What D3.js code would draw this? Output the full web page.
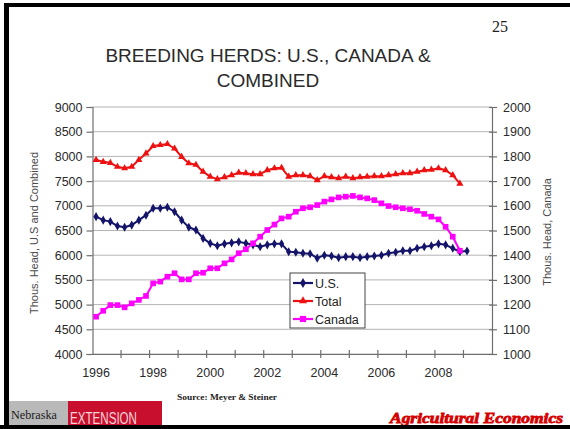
<!DOCTYPE html>
<html>
<head>
<meta charset="utf-8">
<script src="https://cdn.jsdelivr.net/npm/d3@7"></script>
<style>
  html, body { margin: 0; padding: 0; background: #fff; }
  svg { display: block; }
</style>
</head>
<body>
<svg id="chart" width="570" height="429"></svg>
<script>
// Quarterly breeding herd inventories, thousand head
const years = d3.range(1996, 2010);
const quarters = years.flatMap(y => [1, 2, 3, 4].map(q => `${y}Q${q}`));

const usHerd = [6780, 6710, 6680, 6590, 6565, 6610, 6710, 6810, 6950, 6950, 6970, 6880,
  6710, 6565, 6510, 6340, 6240, 6190, 6230, 6250, 6270, 6240, 6210, 6170, 6210, 6230,
  6230, 6070, 6060, 6040, 6030, 5940, 6000, 5985, 5950, 5970, 5970, 5950, 5970, 5985,
  6000, 6040, 6060, 6090, 6090, 6140, 6170, 6190, 6230, 6210, 6140, 6070, 6085];

const totalHerd = [7930, 7890, 7870, 7790, 7760, 7790, 7930, 8060, 8210, 8230, 8250, 8160,
  7990, 7860, 7830, 7690, 7590, 7540, 7580, 7620, 7670, 7660, 7640, 7640, 7720, 7760,
  7770, 7590, 7620, 7620, 7600, 7520, 7600, 7580, 7560, 7590, 7560, 7580, 7590, 7600,
  7600, 7620, 7640, 7660, 7660, 7690, 7720, 7730, 7760, 7720, 7620, 7450];

const canadaHerd = [1151, 1175, 1198, 1198, 1189, 1205, 1219, 1235, 1286, 1293, 1313, 1327,
  1302, 1302, 1327, 1329, 1347, 1347, 1367, 1383, 1408, 1424, 1448, 1475, 1502, 1524,
  1549, 1556, 1576, 1590, 1594, 1603, 1617, 1626, 1634, 1637, 1640, 1634, 1630, 1623,
  1610, 1599, 1594, 1590, 1586, 1580, 1567, 1556, 1545, 1515, 1475, 1418];

const leftTicks = [4000, 4500, 5000, 5500, 6000, 6500, 7000, 7500, 8000, 8500, 9000];
const rightTicks = [1000, 1100, 1200, 1300, 1400, 1500, 1600, 1700, 1800, 1900, 2000];
const yearLabels = ["1996", "1998", "2000", "2002", "2004", "2006", "2008"];

const seriesNames = ["U.S.", "Total", "Canada"];
const seriesColors = ["#14146a", "#ee1111", "#ff00ff"];

const svg = d3.select("#chart");
const font = "Liberation Sans, Arial, sans-serif";

const plot = { left: 92.5, right: 492, top: 107, bottom: 354 };

const x = d3.scaleBand().domain(quarters).range([plot.left, plot.right]).padding(0);
const cx = q => x(q) + x.bandwidth() / 2;
const yL = d3.scaleLinear().domain([4000, 9000]).range([plot.bottom, plot.top]);
const yR = d3.scaleLinear().domain([1000, 2000]).range([plot.bottom, plot.top]);

// Slide number and title
svg.append("text").attr("x", 500).attr("y", 32).attr("text-anchor", "middle")
  .attr("font-family", "Liberation Serif, Times New Roman, serif").attr("font-size", 16)
  .attr("fill", "#222").text("25");

const title = svg.append("text").attr("text-anchor", "middle")
  .attr("font-family", font).attr("font-size", 19).attr("fill", "#2a2a2a");
title.append("tspan").attr("x", 268).attr("y", 62).text("BREEDING HERDS: U.S., CANADA &");
title.append("tspan").attr("x", 268).attr("y", 87).text("COMBINED");

// Horizontal gridlines
svg.append("g").selectAll("line").data(leftTicks).join("line")
  .attr("x1", plot.left).attr("x2", plot.right)
  .attr("y1", d => yL(d)).attr("y2", d => yL(d))
  .attr("stroke", "#b4b4b4").attr("stroke-width", 1);

// Left axis
const gL = svg.append("g").attr("transform", `translate(${plot.left},0)`)
  .call(d3.axisLeft(yL).tickValues(leftTicks).tickSize(6).tickPadding(4).tickFormat(d3.format("d")));
// Right axis
const gR = svg.append("g").attr("transform", `translate(${plot.right},0)`)
  .call(d3.axisRight(yR).tickValues(rightTicks).tickSize(5).tickPadding(6).tickFormat(d3.format("d")));
// Bottom axis: labels every two years, tick marks at each year boundary
const gB = svg.append("g").attr("transform", `translate(0,${plot.bottom})`)
  .call(d3.axisBottom(x)
    .tickValues(yearLabels.map(y => `${y}Q1`))
    .tickSize(0).tickPadding(14)
    .tickFormat(q => q.slice(0, 4)));

[gL, gR, gB].forEach(g => {
  g.select(".domain").attr("stroke", "#6e6e6e").attr("stroke-width", 1.2);
  g.selectAll(".tick line").attr("stroke", "#6e6e6e").attr("stroke-width", 1.2);
  g.selectAll("text").attr("font-family", font).attr("font-size", 12.5).attr("fill", "#2a2a2a");
});
gR.selectAll(".tick line").attr("x1", -3);

svg.append("g").selectAll("line")
  .data(quarters.filter(q => q.endsWith("Q1")).slice(1))
  .join("line")
  .attr("x1", d => x(d)).attr("x2", d => x(d))
  .attr("y1", plot.bottom - 4).attr("y2", plot.bottom + 4)
  .attr("stroke", "#6e6e6e").attr("stroke-width", 1.2);

// Axis titles
svg.append("text")
  .attr("transform", "translate(38,233) rotate(-90)")
  .attr("text-anchor", "middle").attr("font-family", font).attr("font-size", 11)
  .attr("fill", "#4a4a4a").text("Thous. Head, U.S and Combined");
svg.append("text")
  .attr("transform", "translate(551,232) rotate(-90)")
  .attr("text-anchor", "middle").attr("font-family", font).attr("font-size", 11)
  .attr("fill", "#4a4a4a").text("Thous. Head, Canada");

// Series
const series = [
  { name: seriesNames[0], values: usHerd, y: yL, color: seriesColors[0], symbol: d3.symbolDiamond, size: 24 },
  { name: seriesNames[1], values: totalHerd, y: yL, color: seriesColors[1], symbol: d3.symbolTriangle, size: 22 },
  { name: seriesNames[2], values: canadaHerd, y: yR, color: seriesColors[2], symbol: d3.symbolSquare, size: 32 }
];

series.forEach(s => {
  const pts = s.values.map((v, i) => [cx(quarters[i]), s.y(v)]);
  svg.append("path").attr("d", d3.line()(pts))
    .attr("fill", "none").attr("stroke", s.color).attr("stroke-width", 2)
    .attr("stroke-linejoin", "round");
  svg.append("g").selectAll("path").data(pts).join("path")
    .attr("transform", d => `translate(${d[0]},${d[1]})`)
    .attr("d", d3.symbol().type(s.symbol).size(s.size))
    .attr("fill", s.color);
});

// Legend
const lg = svg.append("g").attr("transform", "translate(290,273)");
lg.append("rect").attr("width", 75).attr("height", 55)
  .attr("fill", "#fff").attr("stroke", "#444").attr("stroke-width", 1);
series.forEach((s, i) => {
  const yy = 10 + i * 18;
  lg.append("line").attr("x1", 3).attr("x2", 23).attr("y1", yy).attr("y2", yy)
    .attr("stroke", s.color).attr("stroke-width", 2.2);
  lg.append("path").attr("transform", `translate(13,${yy})`)
    .attr("d", d3.symbol().type(s.symbol).size(s.size + 6)).attr("fill", s.color);
  lg.append("text").attr("x", 25).attr("y", yy + 4.5)
    .attr("font-family", font).attr("font-size", 12.5).attr("fill", "#222").text(s.name);
});

// Footer
svg.append("text").attr("x", 177).attr("y", 400)
  .attr("font-family", "Liberation Serif, Times New Roman, serif").attr("font-size", 8.5)
  .attr("font-weight", "bold").attr("fill", "#222")
  .attr("textLength", 100).attr("lengthAdjust", "spacingAndGlyphs")
  .text("Source: Meyer & Steiner");

svg.append("rect").attr("x", 9).attr("y", 401).attr("width", 59).attr("height", 26).attr("fill", "#b9b9b9");
svg.append("text").attr("x", 11).attr("y", 419)
  .attr("font-family", "Liberation Serif, Times New Roman, serif").attr("font-size", 12.5)
  .attr("fill", "#1a1a1a").attr("textLength", 46).attr("lengthAdjust", "spacingAndGlyphs")
  .text("Nebraska");
svg.append("rect").attr("x", 68).attr("y", 401).attr("width", 94).attr("height", 26).attr("fill", "#c8102e");
svg.append("text").attr("x", 70).attr("y", 424)
  .attr("font-family", font).attr("font-size", 16)
  .attr("fill", "#f6d4da").attr("textLength", 67).attr("lengthAdjust", "spacingAndGlyphs")
  .text("EXTENSION");

svg.append("text").attr("x", 390).attr("y", 423)
  .attr("font-family", "Liberation Serif, Times New Roman, serif").attr("font-size", 15)
  .attr("font-weight", "bold").attr("font-style", "italic")
  .attr("fill", "#d40000").attr("stroke", "#d40000").attr("stroke-width", 0.8)
  .attr("textLength", 173).attr("lengthAdjust", "spacingAndGlyphs")
  .text("Agricultural Economics");

// Slide frame
svg.append("rect").attr("x", 4).attr("y", 3).attr("width", 566).attr("height", 4).attr("fill", "#000");
svg.append("rect").attr("x", 4).attr("y", 3).attr("width", 5).attr("height", 426).attr("fill", "#000");
svg.append("rect").attr("x", 0).attr("y", 425).attr("width", 570).attr("height", 4).attr("fill", "#000");
</script>
</body>
</html>
